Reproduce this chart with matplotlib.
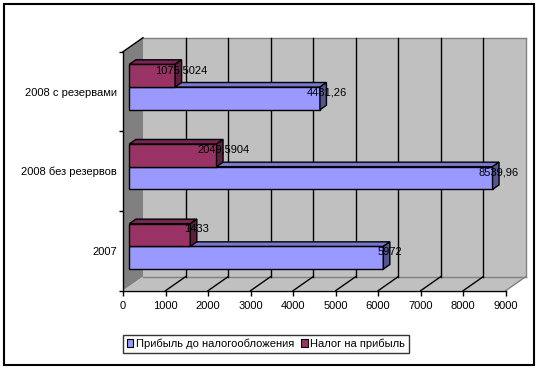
import matplotlib
matplotlib.use("Agg")
import matplotlib.pyplot as plt
from matplotlib.patches import Polygon, Rectangle
from matplotlib.lines import Line2D

plt.rcParams['font.family'] = ['Liberation Sans', 'DejaVu Sans']

categories = ["2007", "2008 без резервов", "2008 с резервами"]
profit = [5972, 8539.96, 4481.26]
tax = [1433, 2049.5904, 1075.5024]
series_names = ["Прибыль до налогообложения", "Налог на прибыль"]
xticks = [0, 1000, 2000, 3000, 4000, 5000, 6000, 7000, 8000, 9000]

W, H, DPI = 540, 371, 100
fig = plt.figure(figsize=(W / DPI, H / DPI), dpi=DPI)

# front plane axes
x0, x1 = 123, 505.7
ytop, ybot = 51.7, 290.7
ax = fig.add_axes([x0 / W, (H - ybot) / H, (x1 - x0) / W, (ybot - ytop) / H])
ax.set_xlim(0, 9000)
ax.set_ylim(-0.5, 2.5)
ax.patch.set_visible(False)
for s in ['top', 'right']:
    ax.spines[s].set_visible(False)
for s in ['left', 'bottom']:
    ax.spines[s].set_linewidth(1.0)
    ax.spines[s].set_zorder(6)

ux = 9000 / (x1 - x0)
uy = 3.0 / (ybot - ytop)
DX, DY = 20, 14  # full depth in pixels


def P(x, y, f):
    return (x + f * DX * ux, y + f * DY * uy)


def poly(pts, fc, ec, lw=1.0, z=1):
    ax.add_patch(Polygon(pts, closed=True, facecolor=fc, edgecolor=ec,
                         linewidth=lw, clip_on=False, zorder=z, joinstyle='miter'))


xmax = 9000
# walls
poly([P(0, -0.5, 0), P(0, 2.5, 0), P(0, 2.5, 1), P(0, -0.5, 1)], '#808080', 'none', z=0.5)
poly([P(0, -0.5, 1), P(xmax, -0.5, 1), P(xmax, 2.5, 1), P(0, 2.5, 1)], '#C0C0C0', 'none', z=0.5)
poly([P(0, -0.5, 0), P(xmax, -0.5, 0), P(xmax, -0.5, 1), P(0, -0.5, 1)], '#C0C0C0', 'none', z=0.5)
# wall edges
edge = '#808080'
for a, b in [(P(0, 2.5, 1), P(xmax, 2.5, 1)), (P(xmax, 2.5, 1), P(xmax, -0.5, 1)),
             (P(xmax, -0.5, 1), P(xmax, -0.5, 0)), (P(0, -0.5, 1), P(xmax, -0.5, 1))]:
    ax.add_line(Line2D([a[0], b[0]], [a[1], b[1]], color=edge, lw=1.0, clip_on=False, zorder=0.8))
a, b = P(0, 2.5, 0), P(0, 2.5, 1)
ax.add_line(Line2D([a[0], b[0]], [a[1], b[1]], color='black', lw=1.0, clip_on=False, zorder=0.9))
# gridlines
for k in xticks[1:-1]:
    a, b = P(k, -0.5, 1), P(k, 2.5, 1)
    ax.add_line(Line2D([a[0], b[0]], [a[1], b[1]], color='black', lw=1.0, clip_on=False, zorder=0.9))
    a, b = P(k, -0.5, 0), P(k, -0.5, 1)
    ax.add_line(Line2D([a[0], b[0]], [a[1], b[1]], color='black', lw=1.0, clip_on=False, zorder=0.9))

# bars
h = 0.285
fa, fb = 0.32, 0.645
styles = [
    ('#9999FF', '#7777CC', '#55558F'),  # profit
    ('#993366', '#772650', '#5C1F3D'),  # tax
]


def fmt(v):
    s = f"{v:.4f}".rstrip('0').rstrip('.')
    return s.replace('.', ',')


z = 2
for i in range(len(categories)):
    for sidx, (vals, sign) in enumerate([(profit, -1), (tax, 1)]):
        v = vals[i]
        yc = i + sign * h / 2
        yb, yt = yc - h / 2, yc + h / 2
        front, top, side = styles[sidx]
        poly([P(0, yb, fa), P(v, yb, fa), P(v, yt, fa), P(0, yt, fa)], front, 'black', z=z)
        poly([P(0, yt, fa), P(v, yt, fa), P(v, yt, fb), P(0, yt, fb)], top, 'black', z=z)
        poly([P(v, yb, fa), P(v, yt, fa), P(v, yt, fb), P(v, yb, fb)], side, 'black', z=z)
        z += 0.1

# value labels (on top)
for i in range(len(categories)):
    for vals, sign in [(profit, -1), (tax, 1)]:
        v = vals[i]
        yc = i + sign * h / 2
        tx, ty = P(v, yc, fb)
        ax.text(tx, ty + 1.0 * uy, fmt(v), ha='center', va='center', fontsize=8,
                color='black', zorder=10, clip_on=False)

# ticks
ax.set_xticks(xticks)
ax.set_xticklabels([str(t) for t in xticks], fontsize=8)
ax.tick_params(axis='x', direction='out', length=3.6, width=1, pad=3.5)
ax.set_yticks([-0.5, 0.5, 1.5, 2.5])
ax.set_yticklabels([])
ax.tick_params(axis='y', which='major', direction='out', length=3.0, width=1)
ax.set_yticks([0, 1, 2], minor=True)
ax.set_yticklabels(categories, minor=True, fontsize=8)
ax.tick_params(axis='y', which='minor', length=0, pad=4.5)

# legend
handles = [Rectangle((0, 0), 1, 1, facecolor=styles[0][0], edgecolor='black', linewidth=0.8),
           Rectangle((0, 0), 1, 1, facecolor=styles[1][0], edgecolor='black', linewidth=0.8)]
leg = fig.legend(handles, series_names, loc='center', ncol=2,
                 bbox_to_anchor=(265.9 / W, 1 - 343.7 / H), fontsize=8,
                 handlelength=0.6, handleheight=0.6, handletextpad=0.25,
                 columnspacing=0.6, borderpad=0.35, fancybox=False, frameon=True)
leg.get_frame().set_edgecolor('black')
leg.get_frame().set_linewidth(1.0)

# outer frame
fig.patches.append(Rectangle((4.3 / W, 1 - 364.7 / H), (534 - 4.3) / W, (364.7 - 4.3) / H,
                             transform=fig.transFigure, facecolor='none',
                             edgecolor='black', linewidth=1.5))

fig.savefig('out.png', dpi=DPI)
